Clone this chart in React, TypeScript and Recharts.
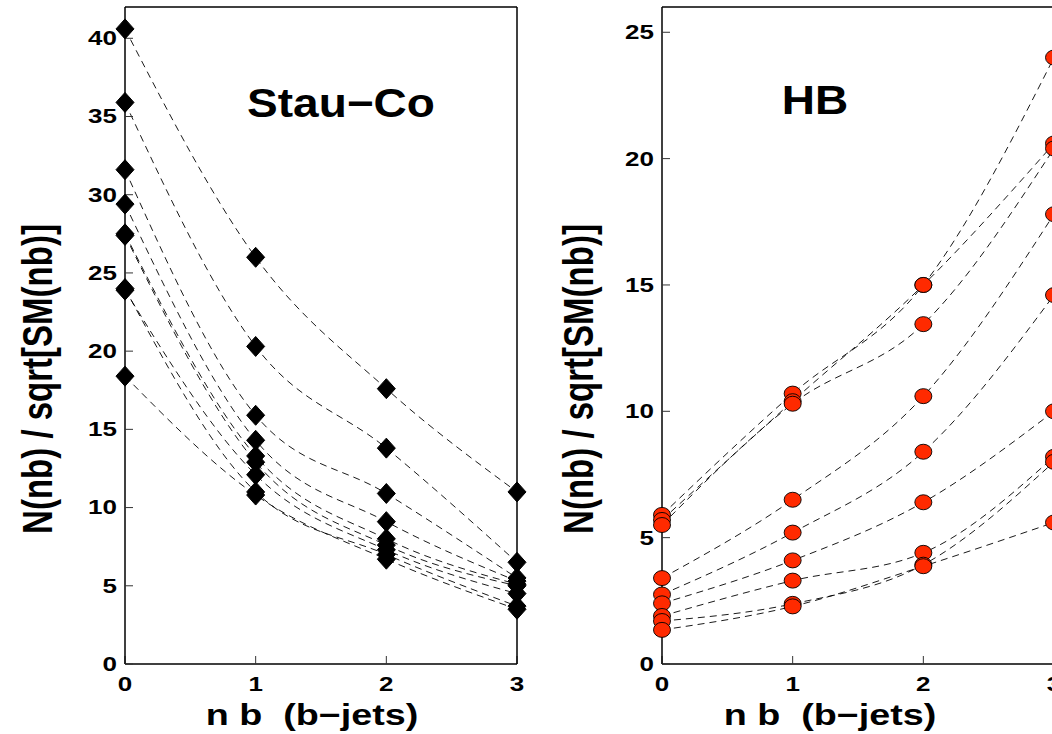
import { LineChart, Line, XAxis, YAxis } from 'recharts';

// values: one row per parameter point, columns are nb = 0..3
const nbValues = [0, 1, 2, 3];
const stauCoCurves = [
  [40.6, 26.0, 17.6, 11.0],
  [35.9, 20.3, 13.8, 6.5],
  [31.6, 15.9, 10.9, 5.5],
  [29.4, 14.3, 9.1, 5.3],
  [27.5, 13.3, 8.0, 5.1],
  [27.4, 12.9, 7.6, 5.0],
  [23.9, 12.1, 7.3, 4.5],
  [24.0, 11.0, 7.0, 3.7],
  [18.4, 10.8, 6.7, 3.5],
];
const hbCurves = [
  [5.9, 10.7, 15.0, 24.0],
  [5.7, 10.4, 15.0, 20.6],
  [5.5, 10.3, 13.45, 20.4],
  [3.4, 6.5, 10.6, 17.8],
  [2.75, 5.2, 8.4, 14.6],
  [2.4, 4.1, 6.4, 10.0],
  [1.9, 3.3, 4.4, 8.2],
  [1.7, 2.38, 3.93, 8.0],
  [1.35, 2.28, 3.87, 5.6],
];
const stauYTicks = [0, 5, 10, 15, 20, 25, 30, 35, 40];
const hbYTicks = [0, 5, 10, 15, 20, 25];

const FONT = '"Liberation Sans", Arial, Helvetica, sans-serif';
const STRETCH = 1.3;

const toRows = (curves: number[][]) =>
  nbValues.map((nb, i) => {
    const row: Record<string, number> = { nb };
    curves.forEach((c, k) => { row[`s${k}`] = c[i]; });
    return row;
  });

function TickLabel(props: any) {
  const { x, y, payload, anchor } = props;
  return (
    <text
      transform={`translate(${x},${y}) scale(${STRETCH},1)`}
      textAnchor={anchor}
      dominantBaseline="central"
      fontFamily={FONT}
      fontWeight="bold"
      fontSize={20}
      fill="#000"
    >
      {payload.value}
    </text>
  );
}

const diamond = (props: any) => {
  const { cx, cy, index, dataKey } = props;
  if (cx == null || cy == null) return <g key={`${dataKey}-${index}`} />;
  return (
    <polygon
      key={`${dataKey}-${index}`}
      points={`${cx},${cy - 10} ${cx + 9},${cy} ${cx},${cy + 10} ${cx - 9},${cy}`}
      fill="#000"
      stroke="#000"
    />
  );
};

const redDot = (props: any) => {
  const { cx, cy, index, dataKey } = props;
  if (cx == null || cy == null) return <g key={`${dataKey}-${index}`} />;
  return (
    <ellipse key={`${dataKey}-${index}`} cx={cx} cy={cy} rx={8.5} ry={7.5} fill="#FF2A00" stroke="#000" strokeWidth={0.9} />
  );
};

interface PanelProps {
  curves: number[][];
  yMax: number;
  yTicks: number[];
  marker: (p: any) => any;
  marginRight: number;
}

function Panel({ curves, yMax, yTicks, marker, marginRight }: PanelProps) {
  const data = toRows(curves);
  const axisStroke = { stroke: '#000', strokeWidth: 1.5 };
  const tickStroke = { stroke: '#333', strokeWidth: 1 };
  return (
    <LineChart width={540} height={734} data={data} margin={{ top: 6, right: marginRight, bottom: 0, left: 0 }}>
      <XAxis
        dataKey="nb"
        type="number"
        domain={[0, 3]}
        ticks={nbValues}
        height={70}
        tickSize={-8}
        tickMargin={28.5}
        axisLine={axisStroke}
        tickLine={tickStroke}
        tick={(p: any) => <TickLabel {...p} anchor="middle" />}
      />
      <XAxis xAxisId="top" orientation="top" type="number" domain={[0, 3]} ticks={nbValues} height={1}
        tickSize={-8} axisLine={axisStroke} tickLine={tickStroke} tick={false} />
      <YAxis
        type="number"
        domain={[0, yMax]}
        ticks={yTicks}
        width={marginRight === 22 ? 125 : 122}
        tickSize={-8}
        tickMargin={16}
        axisLine={axisStroke}
        tickLine={tickStroke}
        tick={(p: any) => <TickLabel {...p} anchor="end" />}
      />
      <YAxis yAxisId="right" orientation="right" type="number" domain={[0, yMax]} ticks={yTicks} width={1}
        tickSize={-8} axisLine={axisStroke} tickLine={tickStroke} tick={false} />
      {curves.map((_, k) => (
        <Line
          key={k}
          dataKey={`s${k}`}
          type="monotone"
          stroke="#000"
          strokeWidth={0.9}
          strokeDasharray="7 5"
          dot={marker}
          activeDot={false}
          isAnimationActive={false}
        />
      ))}
    </LineChart>
  );
}

const textBase: React.CSSProperties = {
  position: 'absolute',
  fontFamily: FONT,
  fontWeight: 'bold',
  lineHeight: 1,
  whiteSpace: 'pre',
  color: '#000',
};

function Label({ x, y, size, text, rotate = false, sx = STRETCH }: { x: number; y: number; size: number; text: string; rotate?: boolean; sx?: number }) {
  return (
    <div
      style={{
        ...textBase,
        left: x,
        top: y,
        fontSize: size,
        transform: `translate(-50%,-50%) scaleX(${sx})${rotate ? ' rotate(-90deg)' : ''}`,
      }}
    >
      {text}
    </div>
  );
}

export default function App() {
  return (
    <div style={{ position: 'absolute', left: 0, top: 0, width: 1052, height: 734, overflow: 'hidden', background: '#fff' }}>
      <div style={{ position: 'absolute', left: 0, top: 0 }}>
        <Panel curves={stauCoCurves} yMax={42} yTicks={stauYTicks} marker={diamond} marginRight={22} />
      </div>
      <div style={{ position: 'absolute', left: 540, top: 0 }}>
        <Panel curves={hbCurves} yMax={26} yTicks={hbYTicks} marker={redDot} marginRight={25} />
      </div>
      <Label x={341} y={103} size={40} text="Stau−Co" sx={1.15} />
      <Label x={815} y={100} size={40} text="HB" sx={1.15} />
      <Label x={37} y={379} size={33} text="N(nb) / sqrt[SM(nb)]" rotate />
      <Label x={578} y={379} size={33} text="N(nb) / sqrt[SM(nb)]" rotate />
      <Label x={312} y={715} size={29} text="n b  (b−jets)" />
      <Label x={830} y={715} size={29} text="n b  (b−jets)" />
    </div>
  );
}
